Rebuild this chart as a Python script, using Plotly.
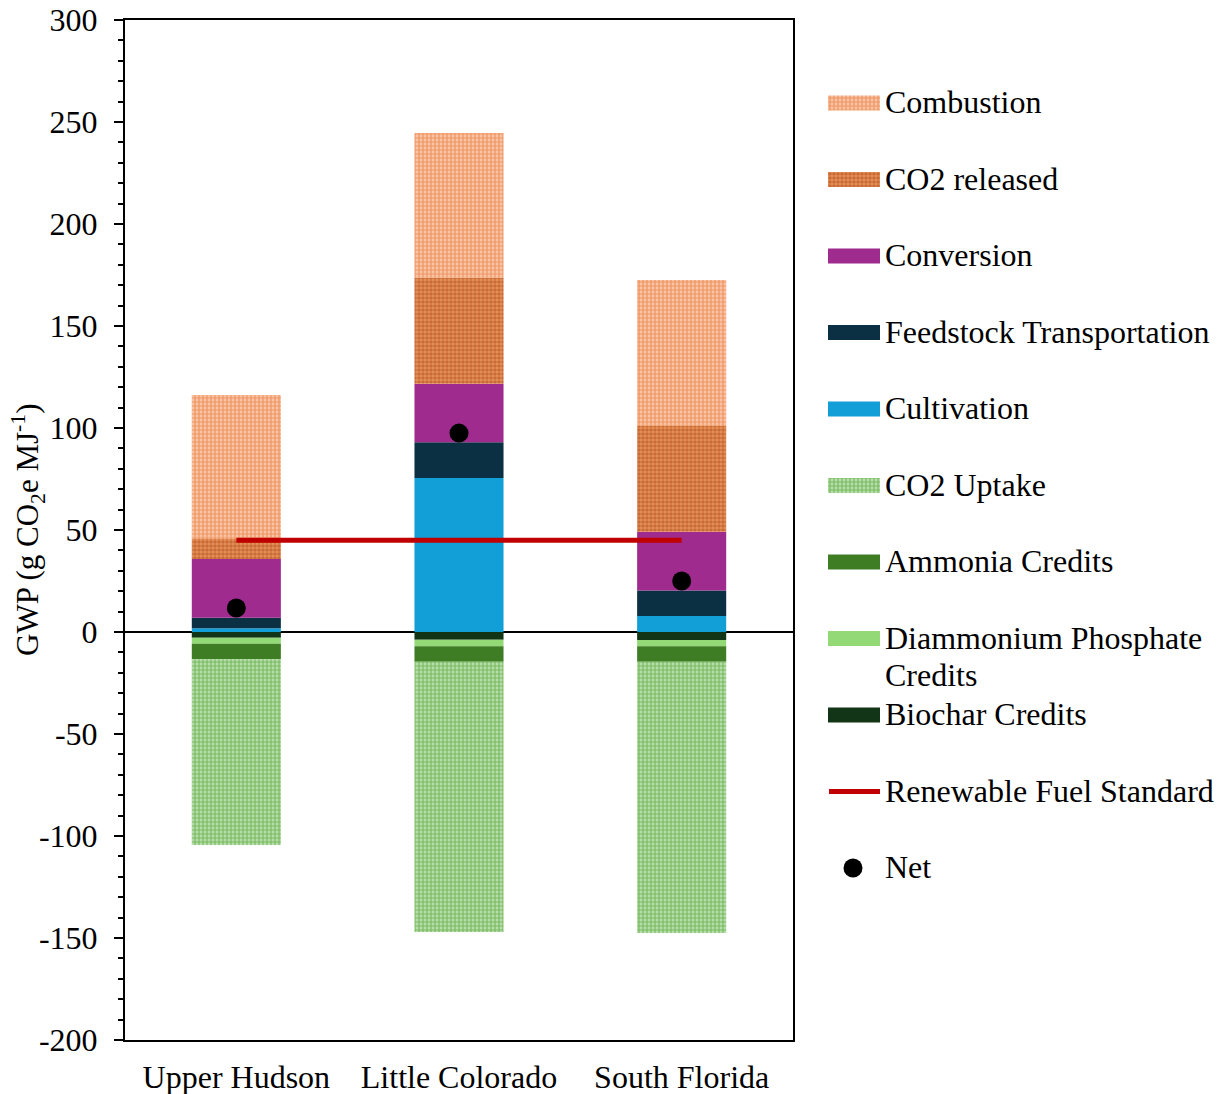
import plotly.graph_objects as go

# Sites and life-cycle GWP contributions (g CO2e per MJ)
sites = ["Upper Hudson", "Little Colorado", "South Florida"]

combustion = [70.6, 70.9, 71.5]
co2_released = [9.8, 52.0, 51.8]
conversion = [28.8, 28.7, 28.8]
feedstock_transport = [5.2, 17.5, 12.6]
cultivation = [1.8, 75.5, 7.8]

co2_uptake = [-91.0, -132.5, -132.9]
ammonia_credits = [-7.7, -7.6, -7.6]
dap_credits = [-2.9, -3.2, -3.1]
biochar_credits = [-2.8, -3.8, -3.9]

net = [11.8, 97.5, 25.0]
rfs_threshold = [45, 45, 45]

y_ticks = [-200, -150, -100, -50, 0, 50, 100, 150, 200, 250, 300]
y_ticklabels = [str(v) for v in y_ticks]

FONT = "Liberation Serif"
FS = 32

# Fill styles (checkered fills)
pat_combustion = dict(shape=".", fgcolor="#EA6A22", bgcolor="#F9D2BA", size=4, solidity=0.7)
pat_released = dict(shape=".", fgcolor="#A8440E", bgcolor="#E8925C", size=4, solidity=0.65)
pat_uptake = dict(shape=".", fgcolor="#3D9C20", bgcolor="#CBE8C0", size=4, solidity=0.7)

series = [
    # (name, values, solid colour, pattern)
    ("Cultivation", cultivation, "#129ED6", None),
    ("Feedstock Transportation", feedstock_transport, "#0C3043", None),
    ("Conversion", conversion, "#A02B8F", None),
    ("CO2 released", co2_released, "#C0541A", pat_released),
    ("Combustion", combustion, "#EE7632", pat_combustion),
    ("Biochar Credits", biochar_credits, "#123417", None),
    ("Diammonium Phosphate Credits", dap_credits, "#93DA77", None),
    ("Ammonia Credits", ammonia_credits, "#3E7D23", None),
    ("CO2 Uptake", co2_uptake, "#4EA72E", pat_uptake),
]
style = {name: (color, pat) for name, _, color, pat in series}

fig = go.Figure()

for name, vals, color, pat in series:
    marker = dict(color=color, line=dict(width=0))
    if pat:
        marker["pattern"] = pat
    fig.add_trace(go.Bar(x=sites, y=vals, name=name, marker=marker,
                         width=0.4, showlegend=False))

fig.add_trace(go.Scatter(x=sites, y=rfs_threshold, mode="lines",
                         line=dict(color="#C00000", width=5),
                         name="Renewable Fuel Standard", showlegend=False))
fig.add_trace(go.Scatter(x=sites, y=net, mode="markers",
                         marker=dict(color="black", size=19),
                         name="Net", showlegend=False))

# Legend panel drawn on its own pixel-scaled axes
legend_order = ["Combustion", "CO2 released", "Conversion", "Feedstock Transportation",
                "Cultivation", "CO2 Uptake", "Ammonia Credits",
                "Diammonium Phosphate Credits", "Biochar Credits",
                "Renewable Fuel Standard", "Net"]
legend_text = {"Diammonium Phosphate Credits": ["Diammonium Phosphate", "Credits"]}

annotations = []
for i, name in enumerate(legend_order):
    ry = 83 + 76.5 * i
    if name in style:
        color, pat = style[name]
        marker = dict(color=color, line=dict(width=0))
        if pat:
            marker["pattern"] = pat
        fig.add_trace(go.Bar(x=[52], y=[ry], base=[0], orientation="h", width=15,
                             marker=marker, xaxis="x2", yaxis="y2", showlegend=False))
    elif name == "Renewable Fuel Standard":
        fig.add_trace(go.Scatter(x=[1, 52], y=[ry, ry], mode="lines",
                                 line=dict(color="#C00000", width=5),
                                 xaxis="x2", yaxis="y2", showlegend=False))
    else:
        fig.add_trace(go.Scatter(x=[25], y=[ry], mode="markers",
                                 marker=dict(color="black", size=19),
                                 xaxis="x2", yaxis="y2", showlegend=False))
    lines = legend_text.get(name, [name])
    for j, line in enumerate(lines):
        annotations.append(dict(x=55, y=ry - 1 + 37 * j, xref="x2", yref="y2", text=line,
                                showarrow=False, xanchor="left", yanchor="middle",
                                font=dict(family=FONT, size=FS, color="black")))

annotations.append(dict(
    x=0, y=0.5, xref="paper", yref="paper", xshift=-97,
    text="GWP (g CO<sub>2</sub>e MJ<sup>-1</sup>)", textangle=-90,
    showarrow=False, xanchor="center", yanchor="middle",
    font=dict(family=FONT, size=31, color="black")))

fig.update_layout(
    width=1220, height=1094,
    margin=dict(l=125, r=5, t=20, b=54),
    paper_bgcolor="white", plot_bgcolor="white",
    barmode="relative",
    font=dict(family=FONT, size=FS, color="black"),
    annotations=annotations,
    xaxis=dict(domain=[0, 668 / 1090], range=[-0.5, 2.5], showline=True, mirror=True,
               linecolor="black", linewidth=2, ticks="", showgrid=False, automargin=False,
               tickfont=dict(family=FONT, size=FS), ticklabelstandoff=8),
    yaxis=dict(range=[-200, 300], tickvals=y_ticks, ticktext=y_ticklabels,
               showline=True, mirror=True, automargin=False,
               linecolor="black", linewidth=2, ticks="outside", ticklen=9,
               tickwidth=1.5, tickcolor="black",
               minor=dict(dtick=10, ticks="outside", ticklen=5, tickwidth=1.5,
                          tickcolor="black", showgrid=False),
               showgrid=False, zeroline=True, zerolinecolor="black", zerolinewidth=1.5,
               tickfont=dict(family=FONT, size=FS), ticklabelstandoff=10),
    xaxis2=dict(domain=[703 / 1090, 1], range=[0, 387], visible=False, anchor="y2",
                automargin=False),
    yaxis2=dict(domain=[0, 1], range=[1020, 0], visible=False, anchor="x2",
                automargin=False),
    showlegend=False,
)

fig.write_html("out.html")
